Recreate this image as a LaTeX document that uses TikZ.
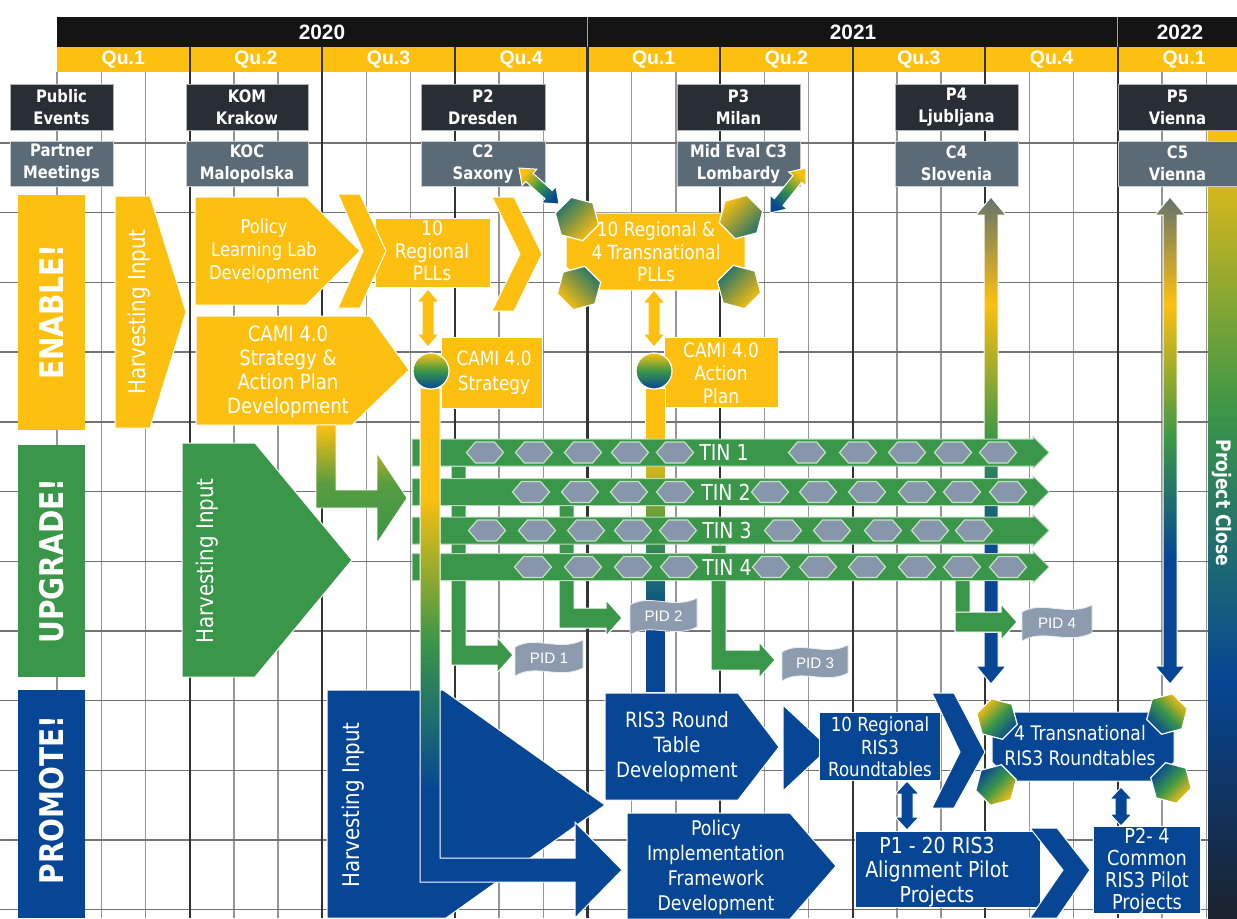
\documentclass[tikz,border=0pt]{standalone}
\usepackage{fontspec}
\setmainfont{DejaVu Sans}[FakeStretch=0.86]
\newfontfamily\headfont{Liberation Sans}
\usetikzlibrary{shapes.geometric}

\definecolor{camiyellow}{RGB}{253,192,16}
\definecolor{camigreen}{RGB}{58,150,72}
\definecolor{camiblue}{RGB}{6,70,148}
\definecolor{eventdark}{RGB}{40,46,52}
\definecolor{meetgray}{RGB}{90,106,118}
\definecolor{pidgray}{RGB}{140,156,174}
\definecolor{hexgray}{RGB}{136,150,172}
\definecolor{hexedge}{RGB}{196,228,196}
\definecolor{gridgray}{RGB}{150,150,150}
\definecolor{closedark}{RGB}{26,34,44}
\definecolor{arrowgray}{RGB}{100,115,110}

% colour ramps for the long bars
\pgfdeclareverticalshading{closebar}{100bp}{color(0bp)=(closedark); color(25bp)=(closedark); color(40bp)=(camiblue); color(57bp)=(camigreen); color(75bp)=(camiyellow); color(100bp)=(camiyellow)}
\pgfdeclareverticalshading{updown}{100bp}{color(0bp)=(camiblue); color(25bp)=(camiblue); color(38bp)=(camiblue); color(50bp)=(camigreen); color(64bp)=(camiyellow); color(75bp)=(arrowgray); color(100bp)=(arrowgray)}
\pgfdeclareverticalshading{stembar}{100bp}{color(0bp)=(camiblue); color(25bp)=(camiblue); color(37bp)=(camiblue); color(51bp)=(camigreen); color(65bp)=(camiyellow); color(75bp)=(camiyellow); color(100bp)=(camiyellow)}

\tikzset{
  monthline/.style={draw=gridgray, line width=0.7pt},
  quarterline/.style={draw=black!80, line width=1.1pt},
  rowline/.style={draw=black!55, line width=0.7pt},
  eventbox/.style={fill=eventdark, draw=gray!60, line width=0.4pt},
  meetbox/.style={fill=meetgray, draw=gray!40, line width=0.4pt},
  boxtext/.style={text=white, align=center, inner sep=0pt, font=\bfseries\fontsize{8.6}{11}\selectfont},
  yeartext/.style={text=white, inner sep=0pt, font=\headfont\bfseries\fontsize{10.4}{12}\selectfont},
  quartertext/.style={text=white, inner sep=0pt, font=\headfont\bfseries\fontsize{9.7}{11}\selectfont},
  enablefill/.style={fill=camiyellow, draw=white, line width=0.5pt},
  upgradefill/.style={fill=camigreen, draw=white, line width=0.5pt},
  promotefill/.style={fill=camiblue, draw=white, line width=0.5pt},
  bandtext/.style={text=white, rotate=90, inner sep=0pt, font=\bfseries\fontsize{16.3}{18}\selectfont},
  harvesttext/.style={text=white, rotate=90, inner sep=0pt, font=\fontsize{11.5}{13}\selectfont},
  stagetext/.style={text=white, align=center, inner sep=0pt},
  cornerhex/.style={regular polygon, regular polygon sides=6, inner sep=0pt, draw=white, line width=0.6pt},
  tinbar/.style={fill=camigreen, draw=white!65!camigreen, line width=0.5pt},
  tinhex/.style={fill=hexgray, draw=hexedge, line width=0.6pt},
  tintext/.style={text=white, inner sep=0pt, font=\fontsize{11}{12}\selectfont},
  pidtext/.style={text=white, inner sep=0pt, font=\headfont\fontsize{7.6}{9}\selectfont},
  closetext/.style={text=white, rotate=-90, inner sep=0pt, font=\bfseries\fontsize{10}{12}\selectfont},
}

% block double arrow: from, to, half shaft, half head, head length, style
\newcommand{\dblarrow}[8]{%
  \pgfmathsetmacro{\dal}{veclen(#3-#1,#4-#2)}%
  \pgfmathsetmacro{\dux}{(#3-#1)/\dal}%
  \pgfmathsetmacro{\duy}{(#4-#2)/\dal}%
  \path[#8] (#1,#2)
    -- ({#1+#7*\dux-#6*\duy},{#2+#7*\duy+#6*\dux})
    -- ({#1+#7*\dux-#5*\duy},{#2+#7*\duy+#5*\dux})
    -- ({#3-#7*\dux-#5*\duy},{#4-#7*\duy+#5*\dux})
    -- ({#3-#7*\dux-#6*\duy},{#4-#7*\duy+#6*\dux})
    -- (#3,#4)
    -- ({#3-#7*\dux+#6*\duy},{#4-#7*\duy-#6*\dux})
    -- ({#3-#7*\dux+#5*\duy},{#4-#7*\duy-#5*\dux})
    -- ({#1+#7*\dux+#5*\duy},{#2+#7*\duy-#5*\dux})
    -- ({#1+#7*\dux+#6*\duy},{#2+#7*\duy-#6*\dux})
    -- cycle;}

% wavy project flag: name, x1, y1, x2, y2, text
\newcommand{\pidflag}[6]{%
  \path[fill=pidgray, draw=white!80!pidgray, line width=0.4pt]
    (#2,{#3+7}) .. controls ({#2+0.3*(#4-#2)},{#3-5}) and ({#2+0.65*(#4-#2)},{#3+12}) .. (#4,#3)
    -- (#4,{#5-8}) .. controls ({#2+0.65*(#4-#2)},{#5+4}) and ({#2+0.3*(#4-#2)},{#5-13}) .. (#2,#5) -- cycle;
  \node[pidtext] (#1) at ({(#2+#4)/2},{(#3+#5)/2}) {#6};}

\begin{document}
\begin{tikzpicture}[x=0.5pt,y=-0.5pt]
\useasboundingbox (0,0) rectangle (1237,918);
\fill[white] (0,0) rectangle (1237,918);

% time header
\fill[black!92] (57,17) rectangle (1237,47);
\fill[camiyellow] (57,47) rectangle (1237,72);
\draw[white!65!black, line width=0.6pt] (587.4,17) -- (587.4,47) (1117.8,17) -- (1117.8,47);
\node[yeartext] (y2020) at (322,32) {2020};
\node[yeartext] (y2021) at (853,32) {2021};
\node[yeartext] (y2022) at (1180,32) {2022};

% month grid
\foreach \k in {0,...,26}
  \draw[monthline] ({57+44.2*\k},72) -- ({57+44.2*\k},918);
\foreach \r in {0,...,11}
  \draw[rowline] (0,{143+69.7*\r}) -- (1237,{143+69.7*\r});
\foreach \k in {3,6,...,24}
  \draw[quarterline] ({57+44.2*\k},47) -- ({57+44.2*\k},918);
\foreach \qn [count=\i from 0] in {1,2,3,4,1,2,3,4,1}
  \node[quartertext] (q\i) at ({57+132.6*(\i+0.5)},59.5) {Qu.\qn};

% closing bar on the right
\path[shading=closebar] (1208,128) rectangle (1237,918);

% events and partner meetings
\foreach \xa/\xb/\ev/\mt [count=\i] in {
    10/113/{Public\\Events}/{Partner\\Meetings},
    186/308/{KOM\\Krakow}/{KOC\\Malopolska},
    421/545/{P2\\Dresden}/{C2\\Saxony},
    677/800/{P3\\Milan}/{Mid Eval C3\\Lombardy},
    895/1018/{P4\\Ljubljana}/{C4\\Slovenia},
    1118/1237/{P5\\Vienna}/{C5\\Vienna}} {
  \draw[eventbox] (\xa,84) rectangle (\xb,130);
  \node[boxtext] (event\i) at ({(\xa+\xb)/2},107) {\ev};
  \draw[meetbox] (\xa,141) rectangle (\xb,186);
  \node[boxtext] (meet\i) at ({(\xa+\xb)/2},163.5) {\mt};
}

% ENABLE!
\fill[camiyellow] (18,195) rectangle (85,430);
\node[bandtext] (enable) at (51.5,312) {ENABLE!};
\path[enablefill] (115,196) -- (150,196) -- (186,312) -- (150,428) -- (115,428) -- cycle;
\node[harvesttext] (harvestE) at (139,312) {Harvesting Input};
\path[enablefill] (195,197) -- (306,197) -- (360,251) -- (306,305) -- (195,305) -- cycle;
\node[stagetext, font=\fontsize{9.5}{11.5}\selectfont] (pll) at (264,251) {Policy\\Learning Lab\\Development};
\path[enablefill] (375,218) rectangle (490,287);
\path[enablefill] (338,194) -- (360,194) -- (386,251) -- (360,308) -- (338,308) -- (363,251) -- cycle;
\node[stagetext, font=\fontsize{10}{11.3}\selectfont] (pllreg) at (432,251) {10\\Regional\\PLLs};
\path[enablefill] (492,197) -- (514,197) -- (542,254) -- (514,311) -- (492,311) -- (520,254) -- cycle;
\path[enablefill] (590,213) -- (722,213) -- (745,236) -- (745,267) -- (722,290) -- (590,290) -- (566,267) -- (566,236) -- cycle;
\node[cornerhex, minimum size=22.5pt, rotate=-15, top color=camiblue!45!camigreen, bottom color=camiyellow, shading angle=45] (hexA) at (577,219) {};
\node[cornerhex, minimum size=22.5pt, rotate=15, top color=camiyellow, bottom color=camiblue!45!camigreen, shading angle=45] (hexB) at (741,217) {};
\node[cornerhex, minimum size=22.5pt, rotate=15, top color=camiblue!45!camigreen, bottom color=camiyellow, shading angle=-45] (hexC) at (579,288) {};
\node[cornerhex, minimum size=22.5pt, rotate=-15, top color=camiblue!45!camigreen, bottom color=camiyellow, shading angle=45] (hexD) at (739,287) {};
\node[stagetext, font=\fontsize{9.8}{11.3}\selectfont] (plltrans) at (656,252) {10 Regional \&\\4 Transnational\\PLLs};
\dblarrow{519}{168}{559}{204}{5.5}{11}{14}{top color=camiyellow, bottom color=camiblue, middle color=camigreen, shading angle=48, draw=white, line width=0.5pt}
\dblarrow{806}{168}{770}{213}{5.5}{11}{14}{top color=camiyellow, bottom color=camiblue, middle color=camigreen, shading angle=-39, draw=white, line width=0.5pt}

\path[enablefill] (196,316) -- (370,316) -- (409,370) -- (352,425) -- (196,425) -- cycle;
\node[stagetext, font=\fontsize{10.5}{12}\selectfont] (camidev) at (288,372) {CAMI 4.0\\Strategy \&\\Action Plan\\Development};
\dblarrow{428}{289}{428}{347}{6}{11}{13}{enablefill}
\dblarrow{654}{290}{654}{347}{6}{11}{13}{enablefill}
\path[enablefill] (441,337) rectangle (542,408);
\node[stagetext, font=\fontsize{9.8}{12.5}\selectfont] (camistrat) at (494,373) {CAMI 4.0\\Strategy};
\path[enablefill] (664,337) rectangle (778,407);
\node[stagetext, font=\fontsize{9.9}{11.5}\selectfont] (camiaction) at (721,373) {CAMI 4.0\\Action\\Plan};

% UPGRADE!
\fill[camigreen] (18,445) rectangle (85,677);
\node[bandtext] (upgrade) at (51.5,561) {UPGRADE!};
\path[upgradefill] (182,443) -- (255,443) -- (352,560) -- (255,677) -- (182,677) -- cycle;
\node[harvesttext] (harvestU) at (207,561) {Harvesting Input};
\path[top color=camiyellow, bottom color=camigreen, middle color=camigreen!85!camiyellow, draw=white, line width=0.4pt]
  (316,425) -- (336,425) -- (336,490) -- (377,490) -- (377,453) -- (407,498) -- (377,543) -- (377,508) -- (316,508) -- cycle;

% bars running behind the networks
\path[shading=stembar, draw=white, line width=0.4pt] (645,388) rectangle (665,692);
\dblarrow{991}{197}{991}{684}{7}{15}{18}{shading=updown, draw=white, line width=0.5pt}
\dblarrow{1170}{197}{1170}{684}{7}{15}{18}{shading=updown, draw=white, line width=0.5pt}

% hand-overs to the pilot designs
\foreach \xa/\ya/\yh/\xt in {451/466/655/513, 559/505/618/622, 711/545/660/775, 955/575/622/1017}
  \path[upgradefill] (\xa,\ya) -- ({\xa+15},\ya) -- ({\xa+15},{\yh-10}) -- ({\xt-16},{\yh-10}) -- ({\xt-16},{\yh-18})
    -- (\xt,\yh) -- ({\xt-16},{\yh+18}) -- ({\xt-16},{\yh+10}) -- (\xa,{\yh+10}) -- cycle;
\pidflag{pid1}{515}{640}{583}{676}{PID 1}
\pidflag{pid2}{630}{598}{697}{635}{PID 2}
\pidflag{pid3}{782}{645}{848}{681}{PID 3}
\pidflag{pid4}{1022}{605}{1092}{641}{PID 4}

% thematic networks
\foreach \cy/\hexes/\tx [count=\tn] in {
    452.5/{485,534,583,630,675,807,858,907,953,998}/724,
    492/{531,580,629,675,770,818,867,917,962,1008}/726,
    530.5/{487,537,586,633,678,783,832,883,930,974}/727,
    567/{533,583,633,679,771,818,867,917,962,1008}/727} {
  \path[tinbar] (412,{\cy-13.5}) -- (1033,{\cy-13.5}) -- (1033,{\cy-16}) -- (1049,\cy)
    -- (1033,{\cy+16}) -- (1033,{\cy+13.5}) -- (412,{\cy+13.5}) -- cycle;
  \foreach \hx in \hexes
    \path[tinhex] ({\hx-18.5},\cy) -- ({\hx-9.5},{\cy-10.5}) -- ({\hx+9.5},{\cy-10.5}) -- ({\hx+18.5},\cy)
      -- ({\hx+9.5},{\cy+10.5}) -- ({\hx-9.5},{\cy+10.5}) -- cycle;
  \node[tintext] (tin\tn) at (\tx,\cy) {TIN \tn};
}
% green hand-over over the blue arrow
\path[upgradefill] (955,612) -- (1001,612) -- (1001,604) -- (1017,622) -- (1001,640) -- (1001,632) -- (955,632) -- cycle;

% PROMOTE!
\fill[camiblue] (18,690) rectangle (85,918);
\node[bandtext] (promote) at (51.5,800) {PROMOTE!};
\path[promotefill] (327,690) -- (443,690) -- (605,805) -- (446,918) -- (327,918) -- cycle;
\node[harvesttext] (harvestP) at (353,805) {Harvesting Input};

% strategy stem down to the implementation framework
\path[shading=stembar, draw=white, line width=0.5pt]
  (420,388) -- (440,388) -- (440,858) -- (575,858) -- (575,822) -- (622,870) -- (575,918) -- (575,882) -- (420,882) -- cycle;
\node[circle, minimum size=18pt, inner sep=0pt, top color=camiyellow, bottom color=camiblue, middle color=camigreen, draw=white, line width=0.6pt] (hubS) at (431,371) {};
\node[circle, minimum size=18pt, inner sep=0pt, top color=camiyellow, bottom color=camiblue, middle color=camigreen, draw=white, line width=0.6pt] (hubA) at (654,371) {};

\path[promotefill] (605,693) -- (738,693) -- (779,747) -- (738,800) -- (605,800) -- cycle;
\node[stagetext, font=\fontsize{10.5}{12.5}\selectfont] (ris3dev) at (677,747) {RIS3 Round\\Table\\Development};
\path[promotefill] (783,705) -- (829,748) -- (783,791) -- cycle;
\path[promotefill] (819,712) rectangle (940,780);
\node[stagetext, font=\fontsize{9.7}{11.3}\selectfont] (ris3reg) at (880,747) {10 Regional\\RIS3\\Roundtables};
\path[promotefill] (932,693) -- (954,693) -- (985,752) -- (954,808) -- (932,808) -- (960,752) -- cycle;
\path[promotefill] (1010,712) -- (1155,712) -- (1174,731) -- (1174,762) -- (1155,781) -- (1010,781) -- (992,762) -- (992,731) -- cycle;
\node[cornerhex, minimum size=21pt, rotate=-15, top color=camiyellow, bottom color=camiblue, middle color=camigreen, shading angle=45] (hexE) at (997,719) {};
\node[cornerhex, minimum size=21pt, rotate=15, top color=camiblue, bottom color=camiyellow, middle color=camigreen, shading angle=45] (hexF) at (996,785) {};
\node[cornerhex, minimum size=21pt, rotate=15, top color=camiyellow, bottom color=camiblue, middle color=camigreen, shading angle=-45] (hexG) at (1167,714) {};
\node[cornerhex, minimum size=21pt, rotate=-15, top color=camiblue, bottom color=camiyellow, middle color=camigreen, shading angle=45] (hexH) at (1171,783) {};
\node[stagetext, font=\fontsize{10}{12.5}\selectfont] (ris3trans) at (1080,746) {4 Transnational\\RIS3 Roundtables};

\path[promotefill] (627,813) -- (790,813) -- (836,866) -- (790,919) -- (627,919) -- cycle;
\node[stagetext, font=\fontsize{10.1}{12.5}\selectfont] (pif) at (716,867) {Policy\\Implementation\\Framework\\Development};
\path[promotefill] (855,831) rectangle (1040,907);
\node[stagetext, font=\fontsize{11}{12.3}\selectfont] (pilot1) at (937,872) {P1 - 20 RIS3\\Alignment Pilot\\Projects};
\path[promotefill] (1030,828) -- (1057,828) -- (1090,870) -- (1057,918) -- (1030,918) -- (1063,870) -- cycle;
\path[promotefill] (1093,826) rectangle (1200,913);
\node[stagetext, font=\fontsize{10.3}{11}\selectfont] (pilot2) at (1147,871) {P2- 4\\Common\\RIS3 Pilot\\Projects};
\dblarrow{907}{781}{907}{830}{6}{12}{13}{promotefill}
\dblarrow{1121}{787}{1121}{826}{6}{11}{12}{promotefill}

\node[closetext] (close) at (1222,503) {Project Close};
\end{tikzpicture}
\end{document}
